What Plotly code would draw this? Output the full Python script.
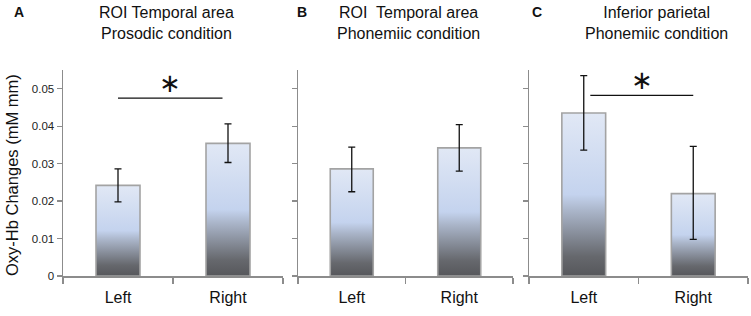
import plotly.graph_objects as go

# ---------------- data ----------------
categories = ["Left", "Right"]
panel_letters = ["A", "B", "C"]
panel_titles = ["ROI Temporal area<br>Prosodic condition",
                "ROI  Temporal area<br>Phonemiic condition",
                "Inferior parietal<br>Phonemiic condition"]
means = [[0.0242, 0.0354],
         [0.0286, 0.0342],
         [0.0435, 0.0220]]
err_upper = [[0.0286, 0.0406],
             [0.0344, 0.0404],
             [0.0535, 0.0346]]
err_lower = [[0.0198, 0.0303],
             [0.0225, 0.0280],
             [0.0336, 0.0098]]
# significance brackets: (panel index, y level)
sig_panels = [0, 2]
sig_levels = [0.0475, 0.0482]
y_ticks = [0, 0.01, 0.02, 0.03, 0.04, 0.05]
y_tick_text = ["0", "0.01", "0.02", "0.03", "0.04", "0.05"]
y_title = "Oxy-Hb Changes (mM mm)"

# ---------------- layout constants ----------------
W, H = 751, 316
x_domains_px = [(63, 283), (298, 513), (529, 748)]
title_cx_px = [166, 408, 656]
letter_x_px = [19, 302, 537]
y_bottom_px, y_top_px = 276, 70
bar_w = 0.4
grad = [[0.0, "#56575b"], [0.12, "#66686d"], [0.40, "#aab5c9"],
        [0.50, "#c4d3ee"], [1.0, "#e1e8f5"]]
FONT = "Liberation Sans, Arial, Helvetica, sans-serif"

fig = go.Figure()
ydom = [(H - y_bottom_px) / H, (H - y_top_px) / H]

for p in range(3):
    xa = "x" if p == 0 else f"x{p+1}"
    ya = "y" if p == 0 else f"y{p+1}"
    xs = list(range(len(categories)))
    # gradient-filled bars with grey outline
    for i, v in enumerate(means[p]):
        c = xs[i]
        fig.add_trace(go.Scatter(
            x=[c - bar_w / 2, c - bar_w / 2, c + bar_w / 2, c + bar_w / 2, c - bar_w / 2],
            y=[0, v, v, 0, 0], mode="lines", fill="toself",
            line=dict(width=1.6, color="#a3a3a3"),
            fillgradient=dict(type="vertical", colorscale=grad),
            hoverinfo="skip", showlegend=False, xaxis=xa, yaxis=ya))
    # error bars
    fig.add_trace(go.Scatter(
        x=xs, y=means[p], mode="markers", marker=dict(size=0.1, color="rgba(0,0,0,0)"),
        error_y=dict(type="data", symmetric=False,
                     array=[u - m for u, m in zip(err_upper[p], means[p])],
                     arrayminus=[m - l for l, m in zip(err_lower[p], means[p])],
                     color="#111111", thickness=1.3, width=3.5),
        showlegend=False, xaxis=xa, yaxis=ya))

    x0, x1 = x_domains_px[p]
    fig.layout[f"xaxis{'' if p == 0 else p+1}"] = dict(
        domain=[x0 / W, x1 / W], range=[-0.5, 1.5], anchor=ya, automargin=False,
        tickvals=xs, ticktext=categories, ticks="", showgrid=False, zeroline=False,
        showline=True, linecolor="#8c8c8c", linewidth=1.5,
        tickfont=dict(family=FONT, size=16, color="#111111"), ticklabelstandoff=6,
        minor=dict(tickvals=[-0.5, 0.5, 1.5], ticks="outside", ticklen=6,
                   tickcolor="#8c8c8c", tickwidth=1.5, showgrid=False),
        fixedrange=True)
    fig.layout[f"yaxis{'' if p == 0 else p+1}"] = dict(
        domain=ydom, range=[0, 0.055], anchor=xa, automargin=False,
        tickvals=y_ticks, ticktext=y_tick_text if p == 0 else [""] * len(y_ticks),
        ticks="outside", ticklen=5, tickcolor="#8c8c8c", tickwidth=1.2,
        showline=True, linecolor="#8c8c8c", linewidth=1.5,
        showgrid=False, zeroline=False,
        tickfont=dict(family=FONT, size=11.5, color="#222222"),
        fixedrange=True)

    fig.add_annotation(x=title_cx_px[p] / W, y=(H - 23) / H, xref="paper", yref="paper",
                       xanchor="center", yanchor="middle", text=panel_titles[p],
                       showarrow=False, font=dict(family=FONT, size=16, color="#111111"))
    fig.add_annotation(x=letter_x_px[p] / W, y=(H - 12) / H, xref="paper", yref="paper",
                       xanchor="center", yanchor="middle", text=f"<b>{panel_letters[p]}</b>",
                       showarrow=False, font=dict(family=FONT, size=14, color="#111111"))

# y-axis title
fig.add_annotation(x=12 / W, y=(H - 175) / H, xref="paper", yref="paper",
                   xanchor="center", yanchor="middle", text=y_title, textangle=-90,
                   showarrow=False, font=dict(family=FONT, size=16.5, color="#111111"))

# significance bars
sig_spans = {0: (0.0, 0.95), 2: (0.06, 1.0)}
for p, lvl in zip(sig_panels, sig_levels):
    xa = "x" if p == 0 else f"x{p+1}"
    ya = "y" if p == 0 else f"y{p+1}"
    a, b = sig_spans[p]
    fig.add_shape(type="line", x0=a, x1=b, y0=lvl, y1=lvl, xref=xa, yref=ya,
                  line=dict(color="#111111", width=1.3))
    fig.add_annotation(x=(a + b) / 2, y=lvl, xref=xa, yref=ya, yanchor="middle",
                       yshift=15, text="∗", showarrow=False,
                       font=dict(family="DejaVu Sans", size=26, color="#111111"))

fig.update_layout(width=W, height=H, margin=dict(l=0, r=0, t=0, b=0, autoexpand=False),
                  paper_bgcolor="white", plot_bgcolor="white")
fig.write_html("out.html", config={"displayModeBar": False, "staticPlot": True},
               post_script="document.body.style.margin='0';document.body.style.overflow='hidden';")
